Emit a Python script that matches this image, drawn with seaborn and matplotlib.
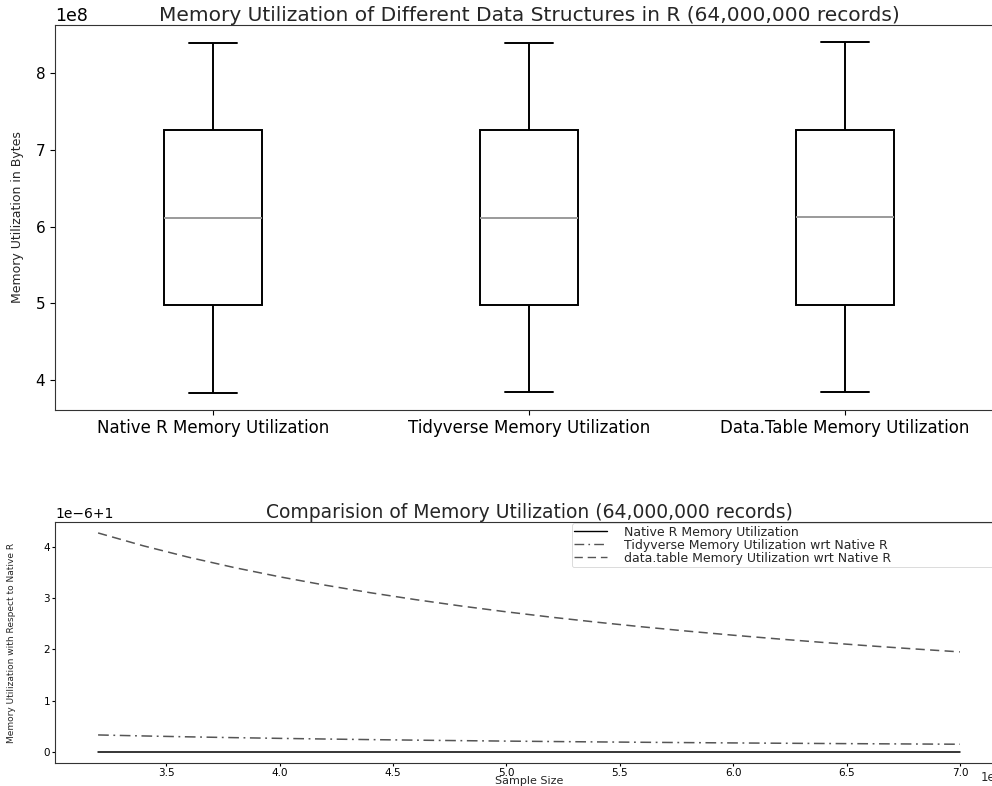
import matplotlib
matplotlib.use("Agg")
import matplotlib.pyplot as plt
import numpy as np
import pandas as pd
import seaborn as sns

# Sample sizes (rows) used in the benchmark
sample_sizes = [32e6, 34e6, 36e6, 38e6, 40e6, 42e6, 44e6, 46e6, 48e6, 50e6,
                52e6, 54e6, 56e6, 58e6, 60e6, 62e6, 64e6, 66e6, 68e6, 70e6]

# Memory used by each structure (bytes)
native_mem = [384000000, 408000000, 432000000, 456000000, 480000000,
              504000000, 528000000, 552000000, 576000000, 600000000,
              624000000, 648000000, 672000000, 696000000, 720000000,
              744000000, 768000000, 792000000, 816000000, 840000000]
tidyverse_mem = [384000128, 408000128, 432000128, 456000128, 480000128,
                 504000128, 528000128, 552000128, 576000128, 600000128,
                 624000128, 648000128, 672000128, 696000128, 720000128,
                 744000128, 768000128, 792000128, 816000128, 840000128]
datatable_mem = [384001640, 408001640, 432001640, 456001640, 480001640,
                 504001640, 528001640, 552001640, 576001640, 600001640,
                 624001640, 648001640, 672001640, 696001640, 720001640,
                 744001640, 768001640, 792001640, 816001640, 840001640]

box_labels = ["Native R Memory Utilization",
              "Tidyverse Memory Utilization",
              "Data.Table Memory Utilization"]
line_labels = ["Native R Memory Utilization",
               "Tidyverse Memory Utilization wrt Native R",
               "data.table Memory Utilization wrt Native R"]

sns.set_style("ticks")
plt.rcParams["font.family"] = ["DejaVu Sans"]
plt.rcParams["xtick.color"] = "black"
plt.rcParams["ytick.color"] = "black"

fig = plt.figure(figsize=(9.92, 7.86), dpi=100)
ax1 = fig.add_axes([55 / 992, 1 - 410 / 786, 948 / 992, 385 / 786])
ax2 = fig.add_axes([55 / 992, 1 - 763 / 786, 948 / 992, 241 / 786])

# ---- box plots of memory per structure ----
df = pd.DataFrame({
    "structure": np.repeat(box_labels, len(native_mem)),
    "memory": np.concatenate([native_mem, tidyverse_mem, datatable_mem]),
})
sns.boxplot(data=df, x="structure", y="memory", ax=ax1, width=0.31,
            color="white", linecolor="black", linewidth=1.4,
            medianprops={"color": "#9a9a9a", "linewidth": 1.4},
            capwidths=0.155)
ax1.set_xlabel("")
ax1.set_ylabel("Memory Utilization in Bytes", fontsize=9, labelpad=8)
ax1.set_title("Memory Utilization of Different Data Structures in R (64,000,000 records)",
              fontsize=14.5, pad=2)
ax1.tick_params(axis="x", labelsize=12, pad=3)
ax1.tick_params(axis="y", labelsize=11)
ax1.yaxis.get_offset_text().set_fontsize(12.5)
for s in ax1.spines.values():
    s.set_visible(True)
    s.set_color("#333333")

# ---- ratios relative to native R ----
native_arr = np.array(native_mem, dtype=float)
ratio_native = native_arr / native_arr
ratio_tidy = np.array(tidyverse_mem, dtype=float) / native_arr
ratio_dt = np.array(datatable_mem, dtype=float) / native_arr

sns.lineplot(x=sample_sizes, y=ratio_native, ax=ax2, color="black",
             linewidth=1.1, label=line_labels[0])
sns.lineplot(x=sample_sizes, y=ratio_tidy, ax=ax2, color="#555555",
             linewidth=1.1, dashes=False, label=line_labels[1])
sns.lineplot(x=sample_sizes, y=ratio_dt, ax=ax2, color="#555555",
             linewidth=1.1, dashes=False, label=line_labels[2])
ax2.lines[1].set_dashes((7, 3, 1.2, 3))
ax2.lines[2].set_dashes((6, 3.5))

ax2.set_title("Comparision of Memory Utilization (64,000,000 records)",
              fontsize=13.5, pad=1)
ax2.set_xlabel("Sample Size", fontsize=8, labelpad=-1)
ax2.set_ylabel("Memory Utilization with Respect to Native R", fontsize=6.5, labelpad=20)
ax2.tick_params(labelsize=7.5, length=2.5, pad=1)
ax2.yaxis.get_offset_text().set_fontsize(10)
# x multiplier shown beside the axis label line
ax2.xaxis.get_offset_text().set_visible(False)
ax2.text(1.0, -0.062, "1e7", transform=ax2.transAxes, ha="right", va="center",
         fontsize=8.5)
leg = ax2.legend(loc="upper left", bbox_to_anchor=(0.545, 0.995, 0.452, 0),
                 mode="expand", fontsize=9, frameon=True, borderaxespad=0,
                 handlelength=2.6, labelspacing=0.0, borderpad=0.2,
                 handletextpad=1.4)
leg.get_frame().set_linewidth(0.6)
for line in leg.get_lines():
    line.set_linewidth(1.0)
leg.get_lines()[1].set_dashes((7, 3, 1.2, 3))
leg.get_lines()[2].set_dashes((6, 3.5))
for s in ax2.spines.values():
    s.set_visible(True)
    s.set_color("#333333")

fig.savefig("out.png", dpi=100)
